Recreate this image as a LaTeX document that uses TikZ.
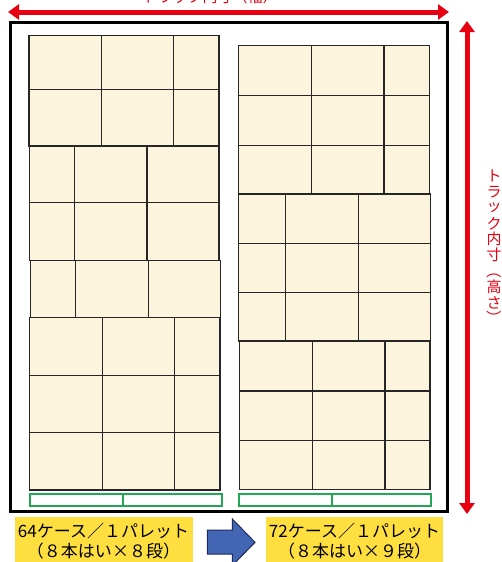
\documentclass[tikz,border=0pt]{standalone}
\usepackage{fontspec}
\newfontfamily\jp{Noto Sans CJK JP}
\usetikzlibrary{arrows.meta}
\definecolor{casefill}{HTML}{FCF4DC}
\definecolor{redline}{HTML}{E60012}
\definecolor{palgreen}{HTML}{22A852}
\definecolor{labelyellow}{HTML}{FFDF3F}
\definecolor{bluefill}{HTML}{4266B4}
\definecolor{blueedge}{HTML}{1E2C5A}
\newcommand{\tightlines}{\lineskiplimit=-20pt\relax\lineskip=0pt\relax}
\begin{document}
\begin{tikzpicture}[x=1pt,y=-1pt,
  casebox/.style={draw=black!85,fill=casefill,line width=1.1pt},
  palbox/.style={draw=palgreen,fill=white,line width=1.5pt},
  truckbox/.style={draw=black,line width=3pt},
  dimarrow/.style={draw=redline,line width=5pt,{Triangle[length=11pt,width=15pt]}-{Triangle[length=11pt,width=15pt]}},
  dimtext/.style={text=redline,font=\jp\fontsize{15}{15.6}\selectfont,inner sep=0pt},
  labeltext/.style={font=\jp\fontsize{17}{20}\selectfont\tightlines,align=center,inner sep=0pt},
  bigarrow/.style={fill=bluefill,draw=blueedge,line width=1pt,line join=miter}]
\clip (0,0) rectangle (502,562);
\fill[white] (0,0) rectangle (502,562);
% truck interior
\draw[truckbox] (10,22) rectangle (447,511);
% left stack: 8 layers
\foreach \ya/\yb/\xa/\xb/\xc/\xd in {
  35.7/89.7/29/101.3/173.7/219,
  89.7/146/29/101.3/173.7/219,
  146/202.7/29.7/74.7/147/219,
  202.7/260.5/29.7/74.7/147/219,
  260.5/317.7/30.3/75.7/148.3/220.7,
  317.7/375.7/29.7/102.7/174.7/220,
  375.7/432.3/29.7/102.7/174.7/220,
  432.3/490/29.7/102.7/174.7/220}{
  \draw[casebox] (\xa,\ya) rectangle (\xb,\yb);
  \draw[casebox] (\xb,\ya) rectangle (\xc,\yb);
  \draw[casebox] (\xc,\ya) rectangle (\xd,\yb);
}
% right stack: 9 layers
\foreach \ya/\yb/\xa/\xb/\xc/\xd in {
  45.7/95.3/238.3/311.3/384/429.5,
  95.3/145.7/238.3/311.3/384/429.5,
  145.7/194/238.3/311.3/384/429.5,
  194/243.3/238.7/285.7/358.3/430.7,
  243.3/292.3/238.7/285.7/358.3/430.7,
  292.3/341/238.7/285.7/358.3/430.7,
  341/391/239.3/312.3/385/430,
  391/440.7/239.3/312.3/385/430,
  440.7/489.3/239.3/312.3/385/430}{
  \draw[casebox] (\xa,\ya) rectangle (\xb,\yb);
  \draw[casebox] (\xb,\ya) rectangle (\xc,\yb);
  \draw[casebox] (\xc,\ya) rectangle (\xd,\yb);
}
% pallets
\draw[palbox] (30,494) rectangle (123,506);
\draw[palbox] (123,494) rectangle (222,506);
\draw[palbox] (239,494) rectangle (332,506);
\draw[palbox] (332,494) rectangle (431,506);
% width dimension
\coordinate (wL) at (8,12);
\coordinate (wR) at (449,12);
\draw[dimarrow] (wL) -- (wR);
\node[dimtext] (wtext) at (210,-3) {トラック内寸（幅）};
% height dimension
\coordinate (hT) at (467,21);
\coordinate (hB) at (467,514);
\draw[dimarrow] (hT) -- (hB);
\foreach \ch/\rot [count=\i from 0] in {ト/0,ラ/0,ッ/0,ク/0,内/0,寸/0,（/-90,高/0,さ/0,）/-90}{
  \node[dimtext,minimum size=15pt,rotate=\rot] (v\i) at (494,{176+15.8*\i}) {\ch};
}
% labels
\fill[labelyellow] (15,516.7) rectangle (192.7,570);
\fill[labelyellow] (265.7,516.7) rectangle (443.3,570);
\node[labeltext] (lab64) at (103.5,541) {64ケース／１パレット\\（８本はい×８段）};
\node[labeltext] (lab72) at (354.5,541) {72ケース／１パレット\\（８本はい×９段）};
% arrow
\draw[bigarrow] (207.3,530) -- (232.3,530) -- (232.3,519) -- (255,542.3) -- (232.3,565.6) -- (232.3,554) -- (207.3,554) -- cycle;
\end{tikzpicture}
\end{document}
